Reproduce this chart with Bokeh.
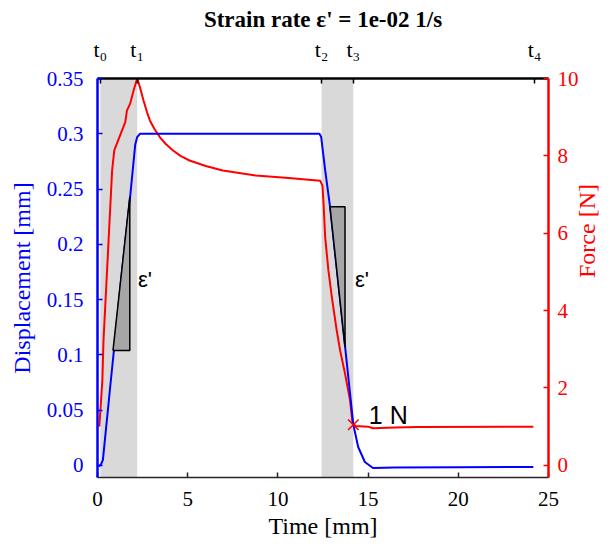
import math
from bokeh.plotting import figure
from bokeh.models import LinearAxis, Range1d, FixedTicker, Label
from bokeh.embed import file_html
from bokeh.resources import INLINE

# ---------------- data ----------------
t_disp = [0.07, 0.2, 0.3, 0.71, 1.36, 1.81, 2.09, 2.2, 2.35, 2.7, 5.0, 10.0, 12.3,
          12.4, 12.62, 12.89, 13.3, 13.72, 14.18, 14.45, 14.82, 15.27, 16.47, 20.0, 24.16]
disp = [-0.001, 0.001, 0.005, 0.072, 0.176, 0.243, 0.290, 0.297, 0.300, 0.300, 0.300, 0.300, 0.300,
        0.297, 0.267, 0.234, 0.172, 0.108, 0.037, 0.0166, 0.003, -0.0024, -0.002, -0.0018, -0.0015]

t_force = [0.1, 0.27, 0.33, 0.53, 0.81, 0.93, 1.36, 1.54, 1.63, 1.81, 2.0, 2.2, 2.35, 2.55,
           2.75, 2.91, 3.15, 3.46, 3.8, 4.19, 4.6, 5.1, 6.0, 6.94, 8.77, 10.6, 12.34,
           12.47, 12.53, 12.62, 12.8, 12.99, 13.26, 13.45, 13.72, 14.0, 14.14, 14.3,
           15.0, 15.27, 16.5, 17.75, 24.16]
force = [1.0, 2.2, 3.2, 5.04, 7.62, 8.14, 8.66, 8.87, 9.17, 9.35, 9.69, 10.0, 9.78, 9.43,
         9.12, 8.91, 8.7, 8.48, 8.3, 8.14, 8.0, 7.88, 7.74, 7.62, 7.49, 7.43, 7.36,
         7.23, 6.77, 5.9, 5.04, 4.35, 3.49, 2.97, 2.37, 1.68, 1.08, 1.02,
         1.0, 0.96, 0.98, 0.99, 1.0]

t_marks = [0.16, 2.2, 12.42, 14.18, 24.23]
t_mark_labels = ["t\u2080", "t\u2081", "t\u2082", "t\u2083", "t\u2084"]

tri1_t = [0.86, 1.79, 1.79]
tri1_d = [0.104, 0.104, 0.243]
tri2_t = [12.89, 13.72, 13.72]
tri2_d = [0.234, 0.234, 0.107]

cross_t = [14.18]
cross_f = [1.05]

x_ticks = [0, 5, 10, 15, 20, 25]
disp_ticks = [0, 0.05, 0.1, 0.15, 0.2, 0.25, 0.3, 0.35]
disp_tick_labels = ["0", "0.05", "0.1", "0.15", "0.2", "0.25", "0.3", "0.35"]
force_ticks = [0, 2, 4, 6, 8, 10]

title_text = "Strain rate \u03b5' = 1e-02 1/s"

# ---------------- layout ----------------
W, H = 615, 547
BL, BR, BT, BB = 97, 63, 78, 70
X0, X1 = 0, 25
D0, D1 = -0.011, 0.35
F0, F1 = -0.314, 10.0

SERIF = "Liberation Serif"
SANS = "Liberation Sans"
BLUE = "#0000ff"
RED = "#ff0000"

p = figure(width=W, height=H, x_range=Range1d(X0, X1), y_range=Range1d(D0, D1),
           output_backend="svg", toolbar_location=None,
           x_axis_location=None, y_axis_location=None,
           min_border_left=BL, min_border_right=BR, min_border_top=BT, min_border_bottom=BB)
p.extra_y_ranges = {"force": Range1d(F0, F1)}
p.xgrid.visible = False
p.ygrid.visible = False
p.outline_line_color = None
p.background_fill_color = "white"
p.border_fill_color = "white"

p.title.text = title_text
p.title.align = "center"
p.title.text_font = SERIF
p.title.text_font_size = "23px"
p.title.text_font_style = "bold"
p.title.text_color = "black"
p.title.standoff = 4


def style_axis(ax, color, lw):
    ax.axis_line_color = color
    ax.axis_line_width = lw
    ax.major_tick_line_color = color
    ax.major_tick_line_width = 1.5
    ax.major_tick_in = 5
    ax.major_tick_out = 0
    ax.minor_tick_line_color = None
    ax.major_label_text_font = SERIF
    ax.major_label_text_font_size = "21px"
    ax.major_label_text_color = color
    ax.axis_label_text_font = SERIF
    ax.axis_label_text_font_size = "24px"
    ax.axis_label_text_font_style = "normal"
    ax.axis_label_text_color = color


xb = LinearAxis(ticker=FixedTicker(ticks=x_ticks), axis_label="Time [mm]")
style_axis(xb, "#262626", 1.5)
xb.major_label_text_color = "black"
xb.axis_label_text_color = "black"
xb.major_label_standoff = 14
xb.axis_label_standoff = 4
p.add_layout(xb, "below")

yl = LinearAxis(ticker=FixedTicker(ticks=disp_ticks), axis_label="Displacement [mm]",
                major_label_overrides={v: s for v, s in zip(disp_ticks, disp_tick_labels)})
style_axis(yl, BLUE, 2.5)
yl.major_label_standoff = 14
yl.axis_label_standoff = 9
p.add_layout(yl, "left")

yr = LinearAxis(y_range_name="force", ticker=FixedTicker(ticks=force_ticks), axis_label="Force [N]")
style_axis(yr, RED, 2.5)
yr.major_label_standoff = 9
yr.axis_label_standoff = 5
if "axis_label_orientation" in yr.properties():
    yr.axis_label_orientation = math.pi / 2
p.add_layout(yr, "right")

xt = LinearAxis(ticker=FixedTicker(ticks=t_marks),
                major_label_overrides={v: s for v, s in zip(t_marks, t_mark_labels)})
style_axis(xt, "black", 2.5)
xt.major_label_text_color = "black"
xt.major_label_text_font_size = "22px"
xt.major_label_standoff = 17
p.add_layout(xt, "above")

# shaded phases
p.quad(left=[t_marks[0], t_marks[2]], right=[t_marks[1], t_marks[3]],
       bottom=D0, top=D1, fill_color="#d9d9d9", line_color=None)

# curves
p.line(t_force, force, line_color=RED, line_width=2, y_range_name="force")
p.line(t_disp, disp, line_color=BLUE, line_width=2)

# slope triangles
p.patch(tri1_t, tri1_d, fill_color="#a6a6a6", line_color="black", line_width=1.5)
p.patch(tri2_t, tri2_d, fill_color="#a6a6a6", line_color="black", line_width=1.5)

# 1 N marker
p.scatter(cross_t, cross_f, marker="x", size=15, line_color=RED, line_width=1.5,
          y_range_name="force")

# text annotations
p.add_layout(Label(x=2.24, y=0.168, text="\u03b5'", text_font=SANS, text_font_size="22px",
                   text_baseline="alphabetic", text_align="left", text_color="black"))
p.add_layout(Label(x=14.27, y=0.168, text="\u03b5'", text_font=SANS, text_font_size="22px",
                   text_baseline="alphabetic", text_align="left", text_color="black"))
p.add_layout(Label(x=15.04, y=0.046, text="1 N", text_font=SANS, text_font_size="25px",
                   text_baseline="alphabetic", text_align="left", text_color="black"))

open("out.html", "w").write(file_html(p, INLINE))
